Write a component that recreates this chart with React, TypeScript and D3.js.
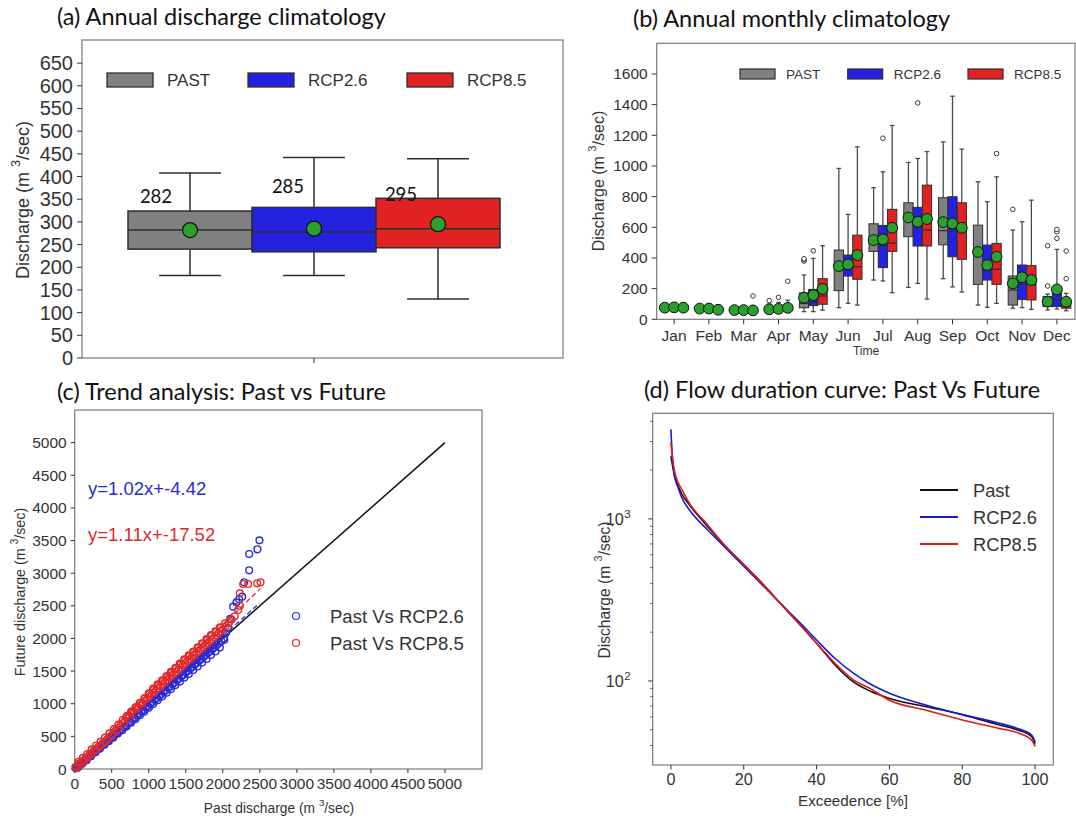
import React from 'react';
import * as d3 from 'd3';

// ---------- shared ----------
const SERIES = ['PAST', 'RCP2.6', 'RCP8.5'];
const BOX_COLORS = ['#808080', '#2222e0', '#e02222'];
const MEAN_COLOR = '#2ca02c';

// ---------- (a) annual climatology ----------
const annualQ1 = [240, 234, 243];
const annualMedian = [282, 278, 285];
const annualQ3 = [324, 332, 352];
const annualWhiskLo = [182, 182, 130];
const annualWhiskHi = [408, 442, 439];
const annualMean = [282, 285, 295];
const annualMeanLabels = ['282', '285', '295'];
const annualTicks = [0, 50, 100, 150, 200, 250, 300, 350, 400, 450, 500, 550, 600, 650];

// ---------- (b) monthly climatology ----------
const MONTHS = ['Jan', 'Feb', 'Mar', 'Apr', 'May', 'Jun', 'Jul', 'Aug', 'Sep', 'Oct', 'Nov', 'Dec'];
const monthlyQ1 = [
  [65, 60, 55, 55, 75, 187, 443, 539, 486, 228, 93, 83],
  [65, 60, 55, 55, 89, 282, 337, 478, 408, 256, 130, 83],
  [62, 55, 52, 58, 98, 261, 443, 478, 391, 228, 126, 72],
];
const monthlyMedian = [
  [75, 68, 60, 62, 104, 340, 520, 650, 578, 440, 191, 115],
  [75, 68, 60, 62, 115, 343, 480, 604, 578, 321, 228, 126],
  [72, 62, 58, 68, 152, 343, 497, 582, 600, 326, 228, 93],
];
const monthlyQ3 = [
  [88, 80, 68, 75, 172, 452, 623, 760, 793, 614, 282, 148],
  [90, 82, 68, 78, 195, 419, 612, 730, 799, 484, 354, 213],
  [85, 75, 65, 90, 265, 549, 717, 875, 760, 495, 350, 115],
];
const monthlyLo = [
  [55, 50, 45, 45, 50, 76, 256, 208, 265, 93, 72, 61],
  [55, 50, 45, 45, 50, 104, 250, 234, 211, 78, 76, 67],
  [55, 45, 45, 45, 60, 93, 174, 132, 178, 104, 65, 56],
];
const monthlyHi = [
  [100, 95, 80, 100, 289, 984, 858, 1023, 1157, 897, 582, 165],
  [105, 100, 80, 110, 397, 684, 962, 1049, 1455, 767, 636, 456],
  [105, 95, 85, 125, 480, 1125, 1264, 1094, 1110, 929, 777, 169],
];
const monthlyMean = [
  [76, 70, 60, 65, 141, 347, 517, 664, 634, 439, 234, 115],
  [78, 70, 60, 68, 158, 358, 521, 636, 625, 354, 274, 195],
  [76, 62, 58, 75, 198, 419, 597, 654, 597, 408, 256, 115],
];
const monthlyOutliers = [
  [[], [], [], [122], [380, 388, 395], [], [], [], [], [], [717], [217, 480]],
  [[], [], [], [143], [447], [], [1181], [1411], [], [], [], [528, 571, 586]],
  [[], [], [152], [248], [], [], [], [], [], [1081], [], [265, 445]],
];
const monthlyTicks = [0, 200, 400, 600, 800, 1000, 1200, 1400, 1600];

// ---------- (c) trend analysis ----------
const trendTicks = [0, 500, 1000, 1500, 2000, 2500, 3000, 3500, 4000, 4500, 5000];
const rcp26Pairs = [
  [15, 10], [35, 45], [60, 50], [85, 95], [110, 100], [135, 140], [160, 150], [185, 190], [210, 200], [240, 245],
  [270, 255], [300, 300], [330, 315], [360, 355], [390, 375], [420, 410], [450, 430], [480, 470], [510, 490], [540, 525],
  [570, 550], [600, 580], [630, 610], [660, 640], [690, 665], [720, 700], [750, 725], [780, 760], [810, 785], [840, 820],
  [870, 845], [900, 880], [930, 905], [960, 940], [990, 965], [1020, 1000], [1050, 1025], [1080, 1060], [1110, 1085], [1140, 1120],
  [1170, 1145], [1200, 1180], [1230, 1205], [1260, 1240], [1290, 1265], [1320, 1300], [1350, 1325], [1380, 1360], [1410, 1385], [1440, 1420],
  [1470, 1445], [1500, 1480], [1530, 1505], [1560, 1540], [1590, 1565], [1620, 1600], [1650, 1625], [1680, 1660], [1710, 1685], [1740, 1720],
  [1770, 1745], [1800, 1780], [1830, 1805], [1860, 1840], [1890, 1870], [1920, 1900], [1950, 1930], [1980, 1960], [2010, 2000], [2040, 2080],
  [2070, 2160], [2100, 2300], [2140, 2487], [2185, 2553], [2220, 2600], [2261, 2640], [2288, 2860], [2356, 3044], [2356, 3294], [2468, 3366], [2495, 3503],
  [40, 20], [100, 80], [160, 135], [220, 195], [280, 255], [340, 310], [400, 370], [460, 425], [520, 480], [580, 540],
  [640, 595], [700, 650], [760, 710], [820, 765], [880, 825], [940, 880], [1000, 940], [1060, 995], [1120, 1055], [1180, 1110],
  [1240, 1170], [1300, 1225], [1360, 1285], [1420, 1340], [1480, 1400], [1540, 1455], [1600, 1515], [1660, 1570], [1720, 1630], [1780, 1685],
  [1840, 1745], [1900, 1800], [1960, 1860], [2020, 1980],
];
const rcp85Pairs = [
  [10, 30], [30, 15], [55, 80], [80, 70], [105, 125], [130, 120], [155, 175], [180, 180], [205, 230], [230, 240],
  [260, 285], [290, 300], [320, 340], [350, 360], [380, 395], [410, 420], [440, 455], [470, 490], [500, 520], [530, 560],
  [560, 600], [590, 630], [620, 670], [650, 700], [680, 740], [710, 775], [740, 810], [770, 845], [800, 880], [830, 910],
  [860, 945], [890, 975], [920, 1010], [950, 1040], [980, 1075], [1010, 1105], [1040, 1140], [1070, 1170], [1100, 1205], [1130, 1235],
  [1160, 1270], [1190, 1300], [1220, 1335], [1250, 1365], [1280, 1400], [1310, 1430], [1340, 1460], [1370, 1490], [1400, 1525], [1430, 1555],
  [1460, 1590], [1490, 1620], [1520, 1650], [1550, 1680], [1580, 1715], [1610, 1745], [1640, 1775], [1670, 1805], [1700, 1835], [1730, 1865],
  [1760, 1895], [1790, 1925], [1820, 1955], [1850, 1985], [1880, 2015], [1910, 2045], [1940, 2080], [1970, 2110], [2000, 2140], [2040, 2190],
  [2080, 2240], [2120, 2290], [2160, 2340], [2207, 2436], [2230, 2500], [2230, 2691], [2275, 2834], [2342, 2834], [2464, 2845], [2509, 2860],
  [50, 110], [110, 170], [170, 230], [230, 300], [290, 360], [350, 420], [410, 480], [470, 545], [530, 610], [590, 680],
  [650, 750], [710, 815], [770, 885], [830, 950], [890, 1015], [950, 1085], [1010, 1150], [1070, 1215], [1130, 1280], [1190, 1345],
  [1250, 1410], [1310, 1475], [1370, 1540], [1430, 1600], [1490, 1665], [1550, 1730], [1610, 1790], [1670, 1855], [1730, 1915], [1790, 1975],
  [1850, 2040], [1910, 2100], [1970, 2160], [2030, 2230],
  [700, 800], [760, 870], [820, 940], [880, 1010], [940, 1080], [1000, 1160], [1060, 1230], [1120, 1295], [1180, 1360], [1240, 1425],
  [1300, 1490], [1360, 1550], [1420, 1615], [1480, 1680], [1540, 1740], [1600, 1800], [1660, 1865], [1720, 1925], [1780, 1990], [1840, 2050],
  [1900, 2110], [1960, 2170],
];
const fitSlopes = [1.02, 1.11];
const fitIntercepts = [-4.42, -17.52];
const fitLabels = ['y=1.02x+-4.42', 'y=1.11x+-17.52'];
const trendLegend = ['Past Vs RCP2.6', 'Past Vs RCP8.5'];
const trendColors = ['#2a2ad8', '#e02a2a'];

// ---------- (d) flow duration curve ----------
const exceedance = [0, 0.5, 1, 2, 3, 5, 10, 15, 20, 25, 30, 35, 40, 45, 50, 55, 60, 70, 80, 90, 95, 99, 100];
const fdcPast = [2440, 2100, 1836, 1592, 1420, 1226, 901, 678, 522, 402, 302, 228, 171, 126, 99, 86, 78, 69.5, 62, 53.7, 50, 45.5, 41];
const fdcRcp26 = [3567, 2220, 1836, 1555, 1350, 1142, 859, 662, 510, 393, 302, 234, 179, 138, 112, 95, 84, 71, 62, 55, 51, 46.5, 42];
const fdcRcp85 = [2950, 2330, 1970, 1670, 1518, 1256, 923, 678, 522, 398, 302, 228, 171, 129, 102, 89, 76, 66, 57.5, 51, 48, 43.3, 39.5];
const fdcLabels = ['Past', 'RCP2.6', 'RCP8.5'];
const fdcColors = ['#111111', '#1a1ad0', '#e01a1a'];
const fdcXTicks = [0, 20, 40, 60, 80, 100];
const fdcYTicks = [100, 1000];

// ---------- style ----------
const TITLE_FONT = 'Lato, "Open Sans", sans-serif';
const TITLE_SIZE = 23.5;
const AXIS_FONT = '"Liberation Sans", Arial, sans-serif';
const TICK_COLOR = '#333333';
const FRAME_COLOR = '#7a7a7a';
const EDGE = '#2e2e2e';

function UnitText({ x, y, size, prefix, rotate = 0 }: any) {
  return (
    <text
      transform={`translate(${x},${y}) rotate(${rotate})`}
      textAnchor="middle"
      fontFamily={AXIS_FONT}
      fontSize={size}
      fill={TICK_COLOR}
    >
      {prefix}(m
      <tspan dx={size * 0.28} dy={-size * 0.5} fontSize={size * 0.7}>3</tspan>
      <tspan dy={size * 0.5}>/sec)</tspan>
    </text>
  );
}

function PanelA() {
  const P = { left: 82, right: 563, top: 40, bottom: 358 };
  const y = d3.scaleLinear().domain([0, 701]).range([P.bottom, P.top]);
  const x = d3.scaleBand().domain(SERIES).range([128, 500]);
  const bw = x.bandwidth();
  const legendX = [107, 248, 407];
  const labelDx = [28, 36, 25];
  const labelDy = [-8, -14, 3];
  return (
    <g>
      <text x={57} y={25} fontFamily={TITLE_FONT} fontSize={TITLE_SIZE} fill="#111">(a) Annual discharge climatology</text>
      <rect x={P.left} y={P.top} width={P.right - P.left} height={P.bottom - P.top} fill="white" stroke={FRAME_COLOR} strokeWidth={1.2} />
      {annualTicks.map((t) => (
        <g key={t}>
          <line x1={P.left - 5} x2={P.left} y1={y(t)} y2={y(t)} stroke={TICK_COLOR} strokeWidth={1} />
          <text x={P.left - 9} y={y(t) + 7} textAnchor="end" fontFamily={AXIS_FONT} fontSize={20} fill={TICK_COLOR}>{t}</text>
        </g>
      ))}
      <line x1={314} x2={314} y1={P.bottom} y2={P.bottom + 5} stroke={TICK_COLOR} />
      <UnitText x={29} y={200} size={18} rotate={-90} prefix="Discharge " />
      {SERIES.map((s, i) => {
        const x0 = x(s)!;
        const cx = x0 + bw / 2;
        return (
          <g key={s}>
            <line x1={cx} x2={cx} y1={y(annualWhiskHi[i])} y2={y(annualQ3[i])} stroke={EDGE} strokeWidth={1.5} />
            <line x1={cx} x2={cx} y1={y(annualWhiskLo[i])} y2={y(annualQ1[i])} stroke={EDGE} strokeWidth={1.5} />
            <line x1={cx - bw / 4} x2={cx + bw / 4} y1={y(annualWhiskHi[i])} y2={y(annualWhiskHi[i])} stroke={EDGE} strokeWidth={1.5} />
            <line x1={cx - bw / 4} x2={cx + bw / 4} y1={y(annualWhiskLo[i])} y2={y(annualWhiskLo[i])} stroke={EDGE} strokeWidth={1.5} />
            <rect x={x0} y={y(annualQ3[i])} width={bw} height={y(annualQ1[i]) - y(annualQ3[i])} fill={BOX_COLORS[i]} stroke={EDGE} strokeWidth={1.5} />
            <line x1={x0} x2={x0 + bw} y1={y(annualMedian[i])} y2={y(annualMedian[i])} stroke={EDGE} strokeWidth={1.5} />
            <circle cx={cx} cy={y(annualMean[i])} r={7.5} fill={MEAN_COLOR} stroke="#111" strokeWidth={1.2} />
            <text x={x0 + labelDx[i]} y={y(annualQ3[i]) + labelDy[i]} textAnchor="middle" fontFamily={TITLE_FONT} fontSize={18.5} fill="#111">{annualMeanLabels[i]}</text>
          </g>
        );
      })}
      {SERIES.map((s, i) => (
        <g key={'lg' + s}>
          <rect x={legendX[i]} y={73} width={46} height={14} fill={BOX_COLORS[i]} stroke={EDGE} strokeWidth={1.3} />
          <text x={legendX[i] + 60} y={86} fontFamily={AXIS_FONT} fontSize={17} fill={TICK_COLOR}>{s}</text>
        </g>
      ))}
    </g>
  );
}

function PanelB() {
  const P = { left: 656.7, right: 1075, top: 43.3, bottom: 319.3 };
  const y = d3.scaleLinear().domain([0, 1800]).range([P.bottom, P.top]);
  const x = d3.scaleBand().domain(MONTHS).range([P.left, 1074.3]);
  const band = x.bandwidth();
  const hue = d3.scaleBand().domain(SERIES).range([band * 0.1, band * 0.9]);
  const hw = hue.bandwidth();
  const legendX = [740, 847.7, 968];
  return (
    <g>
      <text x={633} y={27} fontFamily={TITLE_FONT} fontSize={TITLE_SIZE} fill="#111">(b) Annual monthly climatology</text>
      <rect x={P.left} y={P.top} width={P.right - P.left} height={P.bottom - P.top} fill="white" stroke={FRAME_COLOR} strokeWidth={1.2} />
      {monthlyTicks.map((t) => (
        <g key={t}>
          <line x1={P.left - 5} x2={P.left} y1={y(t)} y2={y(t)} stroke={TICK_COLOR} />
          <text x={P.left - 9} y={y(t) + 5.5} textAnchor="end" fontFamily={AXIS_FONT} fontSize={15.5} fill={TICK_COLOR}>{t}</text>
        </g>
      ))}
      {MONTHS.map((m) => (
        <g key={m}>
          <line x1={x(m)! + band / 2} x2={x(m)! + band / 2} y1={P.bottom} y2={P.bottom + 5} stroke={TICK_COLOR} />
          <text x={x(m)! + band / 2} y={341} textAnchor="middle" fontFamily={AXIS_FONT} fontSize={15.5} fill={TICK_COLOR}>{m}</text>
        </g>
      ))}
      <text x={866} y={355} textAnchor="middle" fontFamily={AXIS_FONT} fontSize={12} fill={TICK_COLOR}>Time</text>
      <UnitText x={604} y={181} size={16} rotate={-90} prefix="Discharge " />
      {SERIES.map((s, si) => (
        <g key={s}>
          {MONTHS.map((m, mi) => {
            const x0 = x(m)! + hue(s)!;
            const cx = x0 + hw / 2;
            return (
              <g key={m}>
                <line x1={cx} x2={cx} y1={y(monthlyHi[si][mi])} y2={y(monthlyQ3[si][mi])} stroke="#4a4a4a" strokeWidth={1.3} />
                <line x1={cx} x2={cx} y1={y(monthlyLo[si][mi])} y2={y(monthlyQ1[si][mi])} stroke="#4a4a4a" strokeWidth={1.3} />
                <line x1={cx - hw / 4} x2={cx + hw / 4} y1={y(monthlyHi[si][mi])} y2={y(monthlyHi[si][mi])} stroke="#4a4a4a" strokeWidth={1.3} />
                <line x1={cx - hw / 4} x2={cx + hw / 4} y1={y(monthlyLo[si][mi])} y2={y(monthlyLo[si][mi])} stroke="#4a4a4a" strokeWidth={1.3} />
                <rect x={x0} y={y(monthlyQ3[si][mi])} width={hw} height={y(monthlyQ1[si][mi]) - y(monthlyQ3[si][mi])} fill={BOX_COLORS[si]} stroke={EDGE} strokeWidth={1} />
                <line x1={x0} x2={x0 + hw} y1={y(monthlyMedian[si][mi])} y2={y(monthlyMedian[si][mi])} stroke={EDGE} strokeWidth={1.2} />
                {monthlyOutliers[si][mi].map((o, k) => (
                  <circle key={k} cx={cx} cy={y(o)} r={2.3} fill="white" stroke="#3a3a3a" strokeWidth={1} />
                ))}
              </g>
            );
          })}
        </g>
      ))}
      {SERIES.map((s, si) => (
        <g key={'mean' + s}>
          {MONTHS.map((m, mi) => (
            <circle key={m} cx={x(m)! + hue(s)! + hw / 2} cy={y(monthlyMean[si][mi])} r={5.4} fill={MEAN_COLOR} stroke="#111" strokeWidth={1} />
          ))}
        </g>
      ))}
      {SERIES.map((s, i) => (
        <g key={'lg' + s}>
          <rect x={legendX[i]} y={69} width={35} height={10} fill={BOX_COLORS[i]} stroke={EDGE} strokeWidth={1.2} />
          <text x={legendX[i] + 46} y={79} fontFamily={AXIS_FONT} fontSize={13.5} fill={TICK_COLOR}>{s}</text>
        </g>
      ))}
    </g>
  );
}

function PanelC() {
  const P = { left: 74.7, right: 482, top: 410, bottom: 769 };
  const x = d3.scaleLinear().domain([0, 5500]).range([P.left, P.right]);
  const y = d3.scaleLinear().domain([0, 5500]).range([P.bottom, P.top]);
  const groups = [rcp26Pairs, rcp85Pairs];
  const fitLabelY = [495, 541];
  const legendY = [616, 643];
  return (
    <g>
      <text x={57} y={400} fontFamily={TITLE_FONT} fontSize={TITLE_SIZE} fill="#111">(c) Trend analysis: Past vs Future</text>
      <rect x={P.left} y={P.top} width={P.right - P.left} height={P.bottom - P.top} fill="white" stroke={FRAME_COLOR} strokeWidth={1.2} />
      {trendTicks.map((t) => (
        <g key={t}>
          <line x1={P.left - 4} x2={P.left} y1={y(t)} y2={y(t)} stroke={TICK_COLOR} />
          <text x={P.left - 8} y={y(t) + 5.5} textAnchor="end" fontFamily={AXIS_FONT} fontSize={15.5} fill={TICK_COLOR}>{t}</text>
          <line x1={x(t)} x2={x(t)} y1={P.bottom} y2={P.bottom + 4} stroke={TICK_COLOR} />
          <text x={x(t)} y={789} textAnchor="middle" fontFamily={AXIS_FONT} fontSize={15.5} fill={TICK_COLOR}>{t}</text>
        </g>
      ))}
      <UnitText x={25} y={592} size={14.3} rotate={-90} prefix="Future discharge " />
      <UnitText x={279} y={813} size={13.8} prefix="Past discharge " />
      <line x1={x(0)} y1={y(0)} x2={x(5000)} y2={y(5000)} stroke="#111" strokeWidth={1.5} />
      {groups.map((g, gi) => (
        <g key={gi}>
          {g.map((p, k) => (
            <circle key={k} cx={x(p[0])} cy={y(p[1])} r={3.4} fill="none" stroke={trendColors[gi]} strokeWidth={1.4} />
          ))}
        </g>
      ))}
      {groups.map((g, gi) => {
        const xmax = d3.max(g, (p) => p[0])!;
        return (
          <line key={'fit' + gi} x1={x(0)} y1={y(fitIntercepts[gi])} x2={x(xmax)} y2={y(fitSlopes[gi] * xmax + fitIntercepts[gi])}
            stroke={trendColors[gi]} strokeWidth={1.3} strokeDasharray="5,3" />
        );
      })}
      {fitLabels.map((l, i) => (
        <text key={l} x={88} y={fitLabelY[i]} fontFamily={AXIS_FONT} fontSize={18.5} fill={trendColors[i]}>{l}</text>
      ))}
      {trendLegend.map((l, i) => (
        <g key={l}>
          <circle cx={296} cy={legendY[i]} r={3.5} fill="none" stroke={trendColors[i]} strokeWidth={1.2} />
          <text x={330} y={legendY[i] + 7} fontFamily={AXIS_FONT} fontSize={18.5} fill={TICK_COLOR}>{l}</text>
        </g>
      ))}
    </g>
  );
}

function PanelD() {
  const P = { left: 652.7, right: 1053.3, top: 413.3, bottom: 765 };
  const x = d3.scaleLinear().domain([-5, 105]).range([P.left, P.right]);
  const y = d3.scaleLog().domain([30.3, 4480]).range([P.bottom, P.top]);
  const series = [fdcPast, fdcRcp26, fdcRcp85];
  const line = d3.line<number>().x((_, i) => x(exceedance[i])).y((d) => y(d)).curve(d3.curveMonotoneX);
  const minor = y.ticks().filter((t) => !fdcYTicks.includes(t));
  const legendY = [490, 517, 544];
  return (
    <g>
      <text x={644} y={398} fontFamily={TITLE_FONT} fontSize={TITLE_SIZE} fill="#111">(d) Flow duration curve: Past Vs Future</text>
      <rect x={P.left} y={P.top} width={P.right - P.left} height={P.bottom - P.top} fill="white" stroke={FRAME_COLOR} strokeWidth={1.2} />
      {fdcXTicks.map((t) => (
        <g key={t}>
          <line x1={x(t)} x2={x(t)} y1={P.bottom} y2={P.bottom + 4.5} stroke={TICK_COLOR} />
          <text x={x(t)} y={785} textAnchor="middle" fontFamily={AXIS_FONT} fontSize={16.2} fill={TICK_COLOR}>{t}</text>
        </g>
      ))}
      {minor.map((t) => (
        <line key={t} x1={P.left - 2.5} x2={P.left} y1={y(t)} y2={y(t)} stroke={TICK_COLOR} strokeWidth={0.8} />
      ))}
      {fdcYTicks.map((t) => (
        <g key={t}>
          <line x1={P.left - 4.5} x2={P.left} y1={y(t)} y2={y(t)} stroke={TICK_COLOR} />
          <text x={P.left - 22} y={y(t) + 6} textAnchor="end" fontFamily={AXIS_FONT} fontSize={16.2} fill={TICK_COLOR}>
            10
            <tspan dx={0.5} dy={-7} fontSize={11.5}>{Math.round(Math.log10(t))}</tspan>
          </text>
        </g>
      ))}
      <UnitText x={610} y={590} size={15.6} rotate={-90} prefix="Discharge " />
      <text x={853} y={806} textAnchor="middle" fontFamily={AXIS_FONT} fontSize={15.2} fill={TICK_COLOR}>Exceedence [%]</text>
      {series.map((s, i) => (
        <path key={i} d={line(s)!} fill="none" stroke={fdcColors[i]} strokeWidth={1.6} />
      ))}
      {fdcLabels.map((l, i) => (
        <g key={l}>
          <line x1={920} x2={958} y1={legendY[i]} y2={legendY[i]} stroke={fdcColors[i]} strokeWidth={1.8} />
          <text x={973} y={legendY[i] + 6.5} fontFamily={AXIS_FONT} fontSize={18.3} fill={TICK_COLOR}>{l}</text>
        </g>
      ))}
    </g>
  );
}

export default function App() {
  return (
    <svg width={1076} height={818} style={{ position: 'absolute', left: 0, top: 0, background: 'white' }}>
      <rect x={0} y={0} width={1076} height={818} fill="white" />
      <PanelA />
      <PanelB />
      <PanelC />
      <PanelD />
    </svg>
  );
}
